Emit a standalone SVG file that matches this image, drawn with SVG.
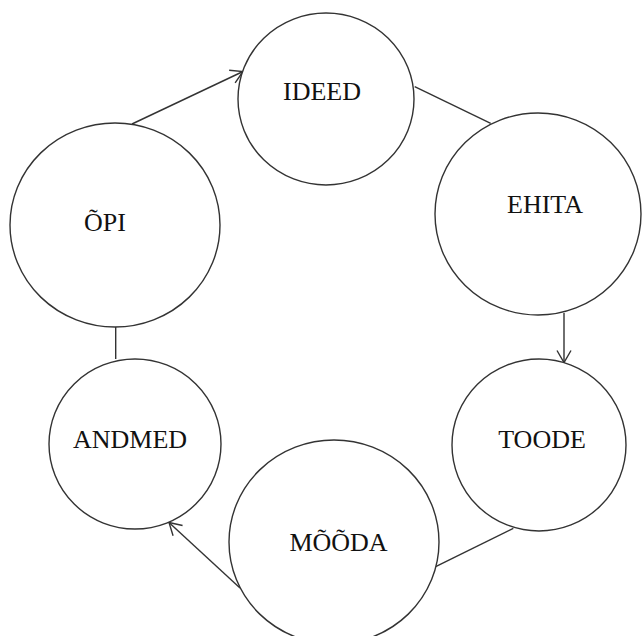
<svg xmlns="http://www.w3.org/2000/svg" width="642" height="636" viewBox="0 0 642 636">
<style>
.node ellipse{fill:#fff;stroke:#333;stroke-width:1.4}
.node text{font-family:"Liberation Serif","Times New Roman",serif;font-size:26px;fill:#111;text-anchor:middle}
.conn line{stroke:#333;stroke-width:1.4;fill:none}
</style>
<defs>
<marker id="arr" markerUnits="userSpaceOnUse" markerWidth="18" markerHeight="18" refX="14" refY="8" orient="auto">
<path d="M2,1 L14,8 L2,15" fill="none" stroke="#333" stroke-width="1.4"/>
</marker>
</defs>
<rect width="642" height="636" fill="#fff"/>
<g id="connectors" class="conn">
<line x1="132" y1="124" x2="243" y2="71.5" marker-end="url(#arr)"/>
<line x1="414.7" y1="86.7" x2="490.7" y2="123.3"/>
<line x1="564" y1="313" x2="564" y2="362.5" marker-end="url(#arr)"/>
<line x1="513.3" y1="528.3" x2="435.7" y2="566.7"/>
<line x1="240" y1="588" x2="169" y2="522.5" marker-end="url(#arr)"/>
<line x1="115.7" y1="326" x2="115.7" y2="359"/>
</g>
<g id="ideed" class="node"><ellipse cx="326" cy="99" rx="88" ry="86"/><text x="322" y="100">IDEED</text></g>
<g id="ehita" class="node"><ellipse cx="538" cy="214" rx="103" ry="101"/><text x="545" y="213">EHITA</text></g>
<g id="toode" class="node"><ellipse cx="539" cy="445" rx="87" ry="86"/><text x="542" y="448">TOODE</text></g>
<g id="mooda" class="node"><ellipse cx="334" cy="542" rx="105" ry="102"/><text x="338.5" y="551">MÕÕDA</text></g>
<g id="andmed" class="node"><ellipse cx="135" cy="444" rx="86" ry="85"/><text x="130" y="448">ANDMED</text></g>
<g id="opi" class="node"><ellipse cx="115" cy="225" rx="105" ry="102"/><text x="105" y="231">ÕPI</text></g>
</svg>
